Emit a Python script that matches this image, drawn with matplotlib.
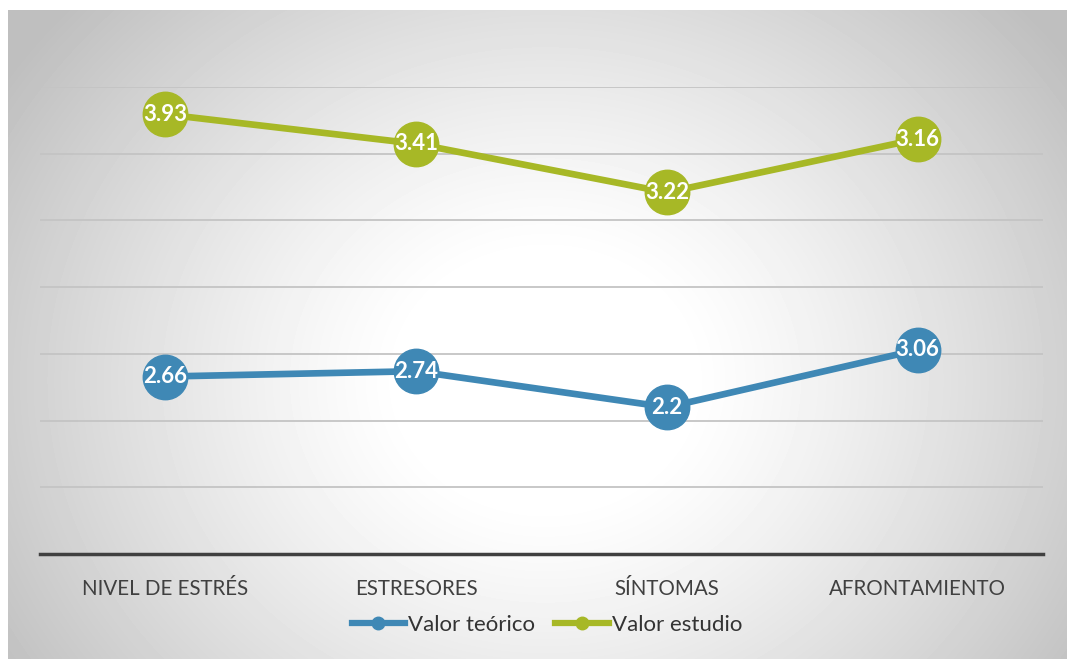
import numpy as np
import matplotlib.pyplot as plt

categorias = ["NIVEL DE ESTRÉS", "ESTRESORES", "SÍNTOMAS", "AFRONTAMIENTO"]
valor_teorico = [2.66, 2.74, 2.2, 3.06]
valor_estudio = [3.93, 3.41, 3.22, 3.16]

azul = "#3F88B5"
verde = "#A7B826"

plt.rcParams["font.family"] = ["Lato", "DejaVu Sans"]

W, H = 1071, 659
fig = plt.figure(figsize=(W / 100, H / 100), dpi=100)

# radial grey-to-white backdrop behind the chart
bg = fig.add_axes([8 / W, 0, (1067 - 8) / W, (H - 10) / H], zorder=0)
yy, xx = np.mgrid[10:H, 8:1067]
r = np.hypot(xx - 545, (yy - 380) * 1.15) / 640
shade = 255 - 64 * np.clip((r - 0.22) / 0.78, 0, 1) ** 1.2
bg.imshow(shade, cmap="gray", vmin=0, vmax=255, aspect="auto", interpolation="bilinear")
bg.axis("off")

ax = fig.add_axes([40 / W, (H - 554) / H, (1043 - 40) / W, (554 - 87) / H], zorder=1)
ax.patch.set_alpha(0)

x = np.arange(len(categorias))
base = np.array(valor_teorico)
apilado = base + np.array(valor_estudio)

for serie, etiquetas, color in [(base, valor_teorico, azul), (apilado, valor_estudio, verde)]:
    ax.plot(x, serie, color=color, lw=4.8, marker="o", ms=32, mec=color, zorder=3)
    for xi, yi, v in zip(x, serie, etiquetas):
        ax.text(xi, yi, f"{v:g}", color="white", fontsize=16, fontweight="bold",
                ha="center", va="center", zorder=4)

ax.set_xlim(-0.5, 3.5)
ax.set_ylim(0, 7)
ax.set_yticks(range(1, 8))
ax.yaxis.grid(True, color="#c4c4c4", lw=1.3)
ax.tick_params(axis="y", left=False, labelleft=False)
ax.set_xticks(x)
ax.set_xticklabels(categorias, fontsize=14.8, color="#404040")
ax.tick_params(axis="x", length=0, pad=18)
for s in ["top", "right", "left"]:
    ax.spines[s].set_visible(False)
ax.spines["bottom"].set_color("#404040")
ax.spines["bottom"].set_linewidth(2.5)

h1, = ax.plot([], [], color=azul, lw=4.5, marker="o", ms=9)
h2, = ax.plot([], [], color=verde, lw=4.5, marker="o", ms=9)
fig.legend([h1, h2], ["Valor teórico", "Valor estudio"], loc="center",
           bbox_to_anchor=(547 / W, 1 - 625 / H), ncol=2, frameon=False,
           fontsize=16, labelcolor="#333333", handlelength=2.4,
           handletextpad=0.15, columnspacing=0.9)

fig.savefig("out.png", dpi=100, facecolor="white")
